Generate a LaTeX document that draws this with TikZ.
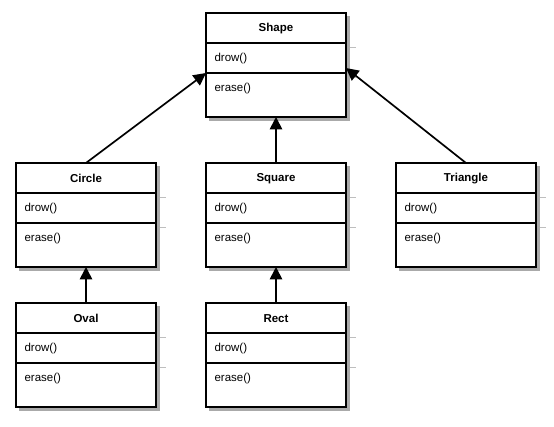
\documentclass[tikz,border=0pt]{standalone}
\usepackage{fontspec}
\setmainfont{Liberation Sans}
\usetikzlibrary{arrows.meta,calc}
\definecolor{shadowgray}{RGB}{170,170,170}
\definecolor{extgray}{RGB}{190,190,190}
\tikzset{
  cls/.style={draw=black, line width=1.7pt, fill=white, minimum width=140pt, minimum height=104pt, inner sep=0pt, outer sep=0pt},
  shad/.style={fill=shadowgray, draw=none},
  ttl/.style={font=\fontsize{11.5}{13}\selectfont\bfseries, anchor=center},
  mth/.style={font=\fontsize{11.5}{13}\selectfont, anchor=west},
  inh/.style={line width=1.7pt, -{Triangle[length=12.5pt,width=12.5pt]}},
  ext/.style={draw=extgray, line width=0.8pt}
}
\newcommand{\umlclass}[4]{% name, x, y, title
  \path[shad] (#2+3,#3+3) rectangle (#2+144,#3+108);
  \draw[ext] (#2+144,#3+34.5) -- (#2+150,#3+34.5);
  \draw[ext] (#2+144,#3+64.5) -- (#2+150,#3+64.5);
  \node[cls] (#1) at (#2+70,#3+52) {};
  \draw[line width=1.7pt] (#2,#3+30) -- (#2+140,#3+30);
  \draw[line width=1.7pt] (#2,#3+60) -- (#2+140,#3+60);
  \node[ttl] (#1t) at (#2+70,#3+15.5) {#4};
  \node[mth] (#1m1) at (#2+5,#3+45.5) {drow()};
  \node[mth] (#1m2) at (#2+5,#3+76) {erase()};
}
\begin{document}
\begin{tikzpicture}[x=1pt,y=-1pt]
\useasboundingbox (0,0) rectangle (554,427);
\umlclass{shape}{206}{13}{Shape}
\umlclass{circle}{16}{163}{Circle}
\umlclass{square}{206}{163}{Square}
\umlclass{triangle}{396}{163}{Triangle}
\umlclass{oval}{16}{303}{Oval}
\umlclass{rect}{206}{303}{Rect}
\coordinate (shapeL) at ($(shape.north west)+(0,60)$);
\coordinate (shapeR) at ($(shape.north east)+(0,55)$);
\draw[inh] (circle.north) -- (shapeL);
\draw[inh] (square.north) -- (shape.south);
\draw[inh] (triangle.north) -- (shapeR);
\draw[inh] (oval.north) -- (circle.south);
\draw[inh] (rect.north) -- (square.south);
\end{tikzpicture}
\end{document}
